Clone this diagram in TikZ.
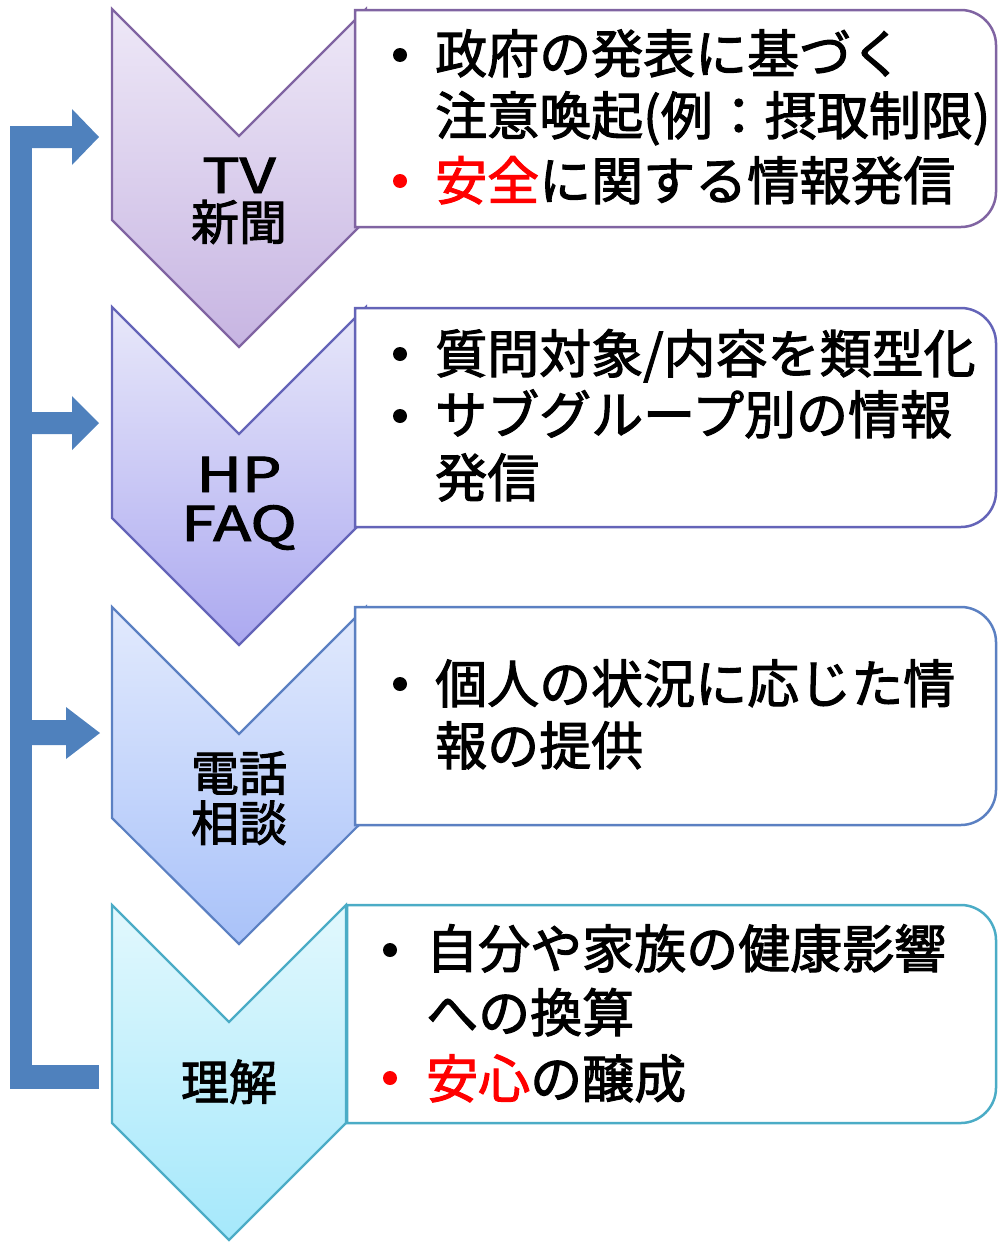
\documentclass[tikz,border=0pt]{standalone}
\usepackage{fontspec}
\setmainfont{Noto Sans CJK JP}[FakeBold=2]
\definecolor{brk}{HTML}{4F81BD}
\definecolor{cAtop}{HTML}{EEE8F7}
\definecolor{cAbot}{HTML}{C7B5E2}
\definecolor{cAln}{HTML}{8064A2}
\definecolor{cBtop}{HTML}{E8E8FA}
\definecolor{cBbot}{HTML}{ACA9F0}
\definecolor{cBln}{HTML}{6464B8}
\definecolor{cCtop}{HTML}{E2EAFD}
\definecolor{cCbot}{HTML}{A9C2F9}
\definecolor{cCln}{HTML}{5B80C2}
\definecolor{cDtop}{HTML}{E2F8FD}
\definecolor{cDbot}{HTML}{A5E8FB}
\definecolor{cDln}{HTML}{4BACC6}
\definecolor{redtxt}{HTML}{FF0000}
\newcommand\widelatin[1]{\scalebox{1.3}[1]{#1}}
\begin{document}
\begin{tikzpicture}[x=1pt,y=-1pt,
  chevron/.style={line width=2.2pt, line join=miter},
  infobox/.style={line width=2.5pt, fill=white},
  boxtext/.style={anchor=base west, inner sep=0pt, font=\fontsize{52}{60}\selectfont},
  chevlabel/.style={anchor=base, inner sep=0pt, font=\fontsize{48}{48}\selectfont},
  bul/.style={circle, fill=black, inner sep=0pt, minimum size=14pt},
  redbul/.style={bul, fill=redtxt}]
\useasboundingbox (0,0) rectangle (997,1242);

% chevrons
\draw[chevron, draw=cAln, top color=cAtop, bottom color=cAbot]
  (112,9) -- (239,136) -- (366,9) -- (366,220) -- (239,347) -- (112,220) -- cycle;
\draw[chevron, draw=cBln, top color=cBtop, bottom color=cBbot]
  (112,307) -- (239,434) -- (366,307) -- (366,518) -- (239,645) -- (112,518) -- cycle;
\draw[chevron, draw=cCln, top color=cCtop, bottom color=cCbot]
  (112,607) -- (239,734) -- (366,607) -- (366,818) -- (239,944) -- (112,818) -- cycle;
\draw[chevron, draw=cDln, top color=cDtop, bottom color=cDbot]
  (112,905) -- (229,1022) -- (346,905) -- (346,1123) -- (229,1240) -- (112,1123) -- cycle;

% boxes
\draw[infobox, draw=cAln]
  (355,10) -- (961,10) .. controls (980,10) and (996,26) .. (996,45) -- (996,192) .. controls (996,211) and (980,227) .. (961,227) -- (355,227) -- cycle;
\draw[infobox, draw=cBln]
  (355,308) -- (961,308) .. controls (980,308) and (996,324) .. (996,343) -- (996,492) .. controls (996,511) and (980,527) .. (961,527) -- (355,527) -- cycle;
\draw[infobox, draw=cCln]
  (355,607) -- (961,607) .. controls (980,607) and (996,623) .. (996,642) -- (996,790) .. controls (996,809) and (980,825) .. (961,825) -- (355,825) -- cycle;
\draw[infobox, draw=cDln]
  (347,905) -- (961,905) .. controls (980,905) and (996,921) .. (996,940) -- (996,1088) .. controls (996,1107) and (980,1123) .. (961,1123) -- (347,1123) -- cycle;

% feedback bracket
\coordinate (t1) at (99,137);
\coordinate (t2) at (99,423);
\coordinate (t3) at (100,733);
\fill[brk] (10,126) rectangle (32,1089);
\fill[brk] (32,1065) rectangle (99,1089);
\fill[brk] (32,126) -- (72,126) -- (72,109) -- (t1) -- (72,165) -- (72,148) -- (32,148) -- cycle;
\fill[brk] (32,412) -- (72,412) -- (72,396) -- (t2) -- (72,450) -- (72,434) -- (32,434) -- cycle;
\fill[brk] (32,720) -- (66,720) -- (66,707) -- (t3) -- (66,759) -- (66,745) -- (32,745) -- cycle;

% chevron labels
\node[chevlabel] (l1a) at (239,193) {\widelatin{TV}};
\node[chevlabel] (l1b) at (239,240) {新聞};
\node[chevlabel] (l2a) at (239,492) {\widelatin{HP}};
\node[chevlabel] (l2b) at (239,541) {\widelatin{FAQ}};
\node[chevlabel] (l3a) at (239,791) {電話};
\node[chevlabel] (l3b) at (239,841) {相談};
\node[chevlabel] (l4a) at (229,1100) {理解};

% box 1
\node[bul] (b1a) at (400,55) {};
\node[boxtext] (x1a) at (435,73) {政府の発表に基づく};
\node[boxtext] (x1b) at (435,135) {注意喚起(例：摂取制限)};
\node[redbul] (b1c) at (400,181) {};
\node[boxtext] (x1c) at (435,200) {{\color{redtxt}安全}に関する情報発信};
% box 2
\node[bul] (b2a) at (400,354) {};
\node[boxtext] (x2a) at (435,373) {質問対象/内容を類型化};
\node[bul] (b2b) at (400,416) {};
\node[boxtext] (x2b) at (435,434) {サブグループ別の情報};
\node[boxtext] (x2c) at (435,497) {発信};
% box 3
\node[bul] (b3a) at (400,684) {};
\node[boxtext] (x3a) at (435,703) {個人の状況に応じた情};
\node[boxtext] (x3b) at (435,765) {報の提供};
% box 4
\node[bul] (b4a) at (390,950) {};
\node[boxtext] (x4a) at (426,968) {自分や家族の健康影響};
\node[boxtext] (x4b) at (426,1032) {への換算};
\node[redbul] (b4c) at (390,1078) {};
\node[boxtext] (x4c) at (426,1098) {{\color{redtxt}安心}の醸成};
\end{tikzpicture}
\end{document}
